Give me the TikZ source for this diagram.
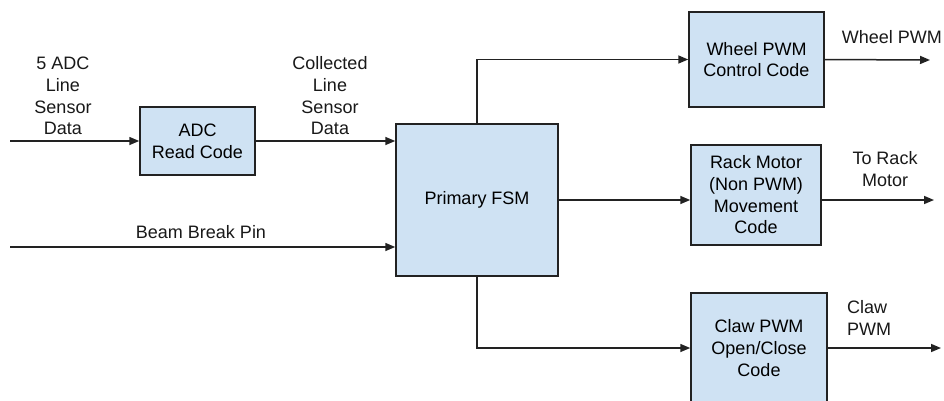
\documentclass[tikz,border=0pt]{standalone}
\usepackage{fontspec}
\setmainfont{Liberation Sans}
\usetikzlibrary{arrows.meta}
\definecolor{boxfill}{HTML}{CFE2F3}
\definecolor{lineclr}{HTML}{222222}
\tikzset{
  blk/.style={draw=lineclr, line width=1.5pt, fill=boxfill, inner sep=0pt, align=center,
    font=\fontsize{18}{21.7}\selectfont},
  lbl/.style={inner sep=0pt, align=center, font=\fontsize{18}{21.7}\selectfont, text=black!90},
  arr/.style={draw=lineclr, line width=1.5pt, -{Triangle[length=10pt,width=8pt]}},
  ln/.style={draw=lineclr, line width=1.5pt}
}
\begin{document}
\begin{tikzpicture}[x=1pt,y=-1pt]
\clip (0,0) rectangle (944,400);
\fill[white] (0,0) rectangle (944,400);
% boxes
\node[blk, minimum width=115pt, minimum height=68pt] (adc) at (197.5,141) {ADC\\Read Code};
\node[blk, minimum width=162pt, minimum height=152pt] (fsm) at (477,200) {Primary FSM};
\node[blk, minimum width=135pt, minimum height=95pt] (wheel) at (756.5,59.5) {Wheel PWM\\Control Code};
\node[blk, minimum width=130pt, minimum height=100pt] (rack) at (756,195) {Rack Motor\\(Non PWM)\\Movement\\Code};
\node[blk, minimum width=136pt, minimum height=110pt] (claw) at (759,348) {Claw PWM\\Open/Close\\Code};
% free ends
\coordinate (in1) at (10,141);
\coordinate (in2) at (10,247);
\coordinate (out1) at (930,60);
\coordinate (out2) at (934,200);
\coordinate (out3) at (941,348);
% labels
\node[lbl] (l1) at (63,96) {5 ADC\\Line\\Sensor\\Data};
\node[lbl] (l2) at (330,96) {Collected\\Line\\Sensor\\Data};
\node[lbl] (l3) at (201,232) {Beam Break Pin};
\node[lbl, anchor=east] (l4) at (942,37) {Wheel PWM};
\node[lbl] (l5) at (885,169) {To Rack\\Motor};
\node[lbl, align=left, anchor=west] (l6) at (847,318) {Claw\\PWM};
% connectors
\draw[arr] (in1) -- (adc.west);
\draw[arr] (adc.east) -- (adc.east -| fsm.west);
\draw[arr] (in2) -- (in2 -| fsm.west);
\draw[arr] (fsm.north) |- (wheel.west);
\draw[arr] (fsm.east) -- (fsm.east -| rack.west);
\draw[arr] (fsm.south) |- (claw.west);
\draw[arr] (wheel.east) -- (out1);
\draw[arr] (out2 -| rack.east) -- (out2);
\draw[arr] (claw.east) -- (out3);
\end{tikzpicture}
\end{document}
